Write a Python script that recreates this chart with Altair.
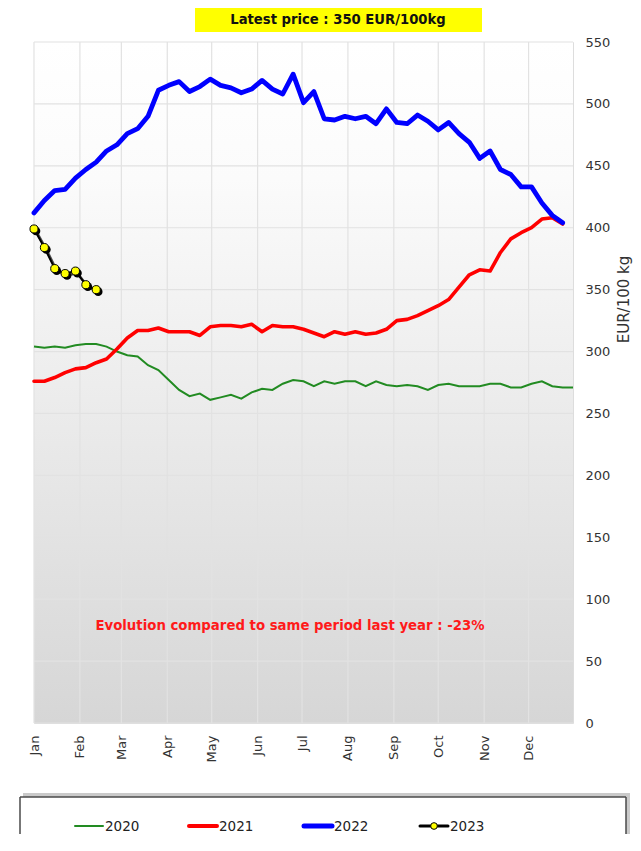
import altair as alt
import pandas as pd

# ---------------- data ----------------
YEARS = ["2020", "2021", "2022", "2023"]
COLORS = ["#228B22", "#FF0000", "#0000FF", "#000000"]

PRICE_2020 = [304, 303, 304, 303, 305, 306, 306, 304, 300, 297,
              296, 289, 285, 277, 269, 264, 266, 261, 263, 265,
              262, 267, 270, 269, 274, 277, 276, 272, 276, 274,
              276, 276, 272, 276, 273, 272, 273, 272, 269, 273,
              274, 272, 272, 272, 274, 274, 271, 271, 274, 276,
              272, 271, 271]
PRICE_2021 = [276, 276, 279, 283, 286, 287, 291, 294, 302, 311,
              317, 317, 319, 316, 316, 316, 313, 320, 321, 321,
              320, 322, 316, 321, 320, 320, 318, 315, 312, 316,
              314, 316, 314, 315, 318, 325, 326, 329, 333, 337,
              342, 352, 362, 366, 365, 380, 391, 396, 400, 407,
              408, 403]
PRICE_2022 = [412, 422, 430, 431, 440, 447, 453, 462, 467, 476,
              480, 490, 511, 515, 518, 510, 514, 520, 515, 513,
              509, 512, 519, 512, 508, 524, 501, 510, 488, 487,
              490, 488, 490, 484, 496, 485, 484, 491, 486, 479,
              485, 476, 469, 456, 462, 447, 443, 433, 433, 420,
              410, 404]
PRICE_2023 = [399, 384, 367, 363, 365, 354, 350]

MONTHS = ["Jan", "Feb", "Mar", "Apr", "May", "Jun",
          "Jul", "Aug", "Sep", "Oct", "Nov", "Dec"]
MONTH_START_DAY = [0, 31, 59, 90, 120, 151, 181, 212, 243, 273, 304, 334]
Y_TICKS = list(range(0, 551, 50))

TITLE_TEXT = "Latest price : 350 EUR/100kg"
NOTE_TEXT = "Evolution compared to same period last year : -23%"
Y_TITLE = "EUR/100 kg"

# ---------------- layout ----------------
W, H = 539, 681
PAD_L, PAD_T = 26, 34
TOTAL_W, TOTAL_H = 625, 826
PAD_R = TOTAL_W - PAD_L - W
PAD_B = TOTAL_H - PAD_T - H
BOTTOM = TOTAL_H - PAD_T          # svg bottom, in plot coordinates

FONT = "DejaVu Sans"
LABEL_COLOR = "#333333"
GRID_COLOR = "#e2e2e2"

month_weeks = [1 + d / 7 for d in MONTH_START_DAY]
label_expr = "''"
for t, name in reversed(list(zip(month_weeks, MONTHS))):
    label_expr = f"abs(datum.value - {t:.5f}) < 0.01 ? '{name}' : ({label_expr})"


def series_df(prices):
    return pd.DataFrame({"week": list(range(1, len(prices) + 1)), "price": prices})


ONE = pd.DataFrame({"k": [0]})

X = alt.X(
    "week:Q",
    scale=alt.Scale(domain=[1, 53], nice=False, zero=False),
    axis=alt.Axis(
        values=month_weeks, labelExpr=label_expr, grid=False, domain=False,
        ticks=False, labelAngle=270, labelAlign="right", labelBaseline="middle",
        labelPadding=12, labelFontSize=13, labelColor=LABEL_COLOR, labelFont=FONT,
        title=None, orient="bottom", labelOverlap=False, labelFlush=False,
    ),
)
Y = alt.Y(
    "price:Q",
    scale=alt.Scale(domain=[0, 550], nice=False),
    axis=alt.Axis(
        values=Y_TICKS, grid=False, domain=False, ticks=False, orient="right",
        labelPadding=12, labelFontSize=13, labelColor=LABEL_COLOR, labelFont=FONT,
        labelAlign="left", labelBaseline="middle", labelOverlap=False, labelFlush=False,
        title=Y_TITLE, titleAngle=270, titleX=58, titleY=257, titleAlign="center",
        titleBaseline="bottom", titleFontSize=15, titleFontWeight="normal",
        titleColor=LABEL_COLOR, titleFont=FONT,
    ),
)

# ---------------- background & grid ----------------
bg = alt.Chart(ONE).mark_rect(
    color=alt.LinearGradient(
        gradient="linear",
        stops=[alt.GradientStop(color="#ffffff", offset=0),
               alt.GradientStop(color="#fbfbfb", offset=0.2),
               alt.GradientStop(color="#d6d6d6", offset=1)],
        x1=0, x2=0, y1=0, y2=1,
    )
).encode(x=alt.value(0), x2=alt.value(W), y=alt.value(0), y2=alt.value(H))

grid_y = alt.Chart(pd.DataFrame({"price": Y_TICKS})).mark_rule(
    color=GRID_COLOR, strokeWidth=1.2
).encode(y=Y)
grid_x = alt.Chart(pd.DataFrame({"week": month_weeks})).mark_rule(
    color=GRID_COLOR, strokeWidth=1.2
).encode(x=X)

# ---------------- series ----------------
l2020 = alt.Chart(series_df(PRICE_2020)).mark_line(
    color=COLORS[0], strokeWidth=2
).encode(x=X, y=Y)
l2021 = alt.Chart(series_df(PRICE_2021)).mark_line(
    color=COLORS[1], strokeWidth=3.6, strokeJoin="round", strokeCap="round"
).encode(x=X, y=Y)
l2022 = alt.Chart(series_df(PRICE_2022)).mark_line(
    color=COLORS[2], strokeWidth=4.8, strokeJoin="round", strokeCap="round"
).encode(x=X, y=Y)

d23 = series_df(PRICE_2023)
l2023_shadow = alt.Chart(d23).mark_line(
    color="#000000", strokeWidth=2.5, xOffset=2, yOffset=2, opacity=0.7
).encode(x=X, y=Y)
l2023 = alt.Chart(d23).mark_line(color=COLORS[3], strokeWidth=2).encode(x=X, y=Y)
p2023_shadow = alt.Chart(d23).mark_circle(
    color="#000000", size=75, opacity=1, xOffset=2, yOffset=2
).encode(x=X, y=Y)
p2023 = alt.Chart(d23).mark_circle(
    fill="#ffff00", stroke="#000000", strokeWidth=1, size=65, opacity=1
).encode(x=X, y=Y)

# ---------------- title box & note ----------------
title_box = alt.Chart(ONE).mark_rect(color="#ffff00").encode(
    x=alt.value(161), x2=alt.value(448), y=alt.value(-PAD_T), y2=alt.value(-10)
)
title_txt = alt.Chart(ONE).mark_text(
    text=TITLE_TEXT, font=FONT, fontSize=13.2, fontWeight="bold", color="#111111",
    align="center", baseline="middle"
).encode(x=alt.value(304), y=alt.value(-22))

note = alt.Chart(ONE).mark_text(
    text=NOTE_TEXT, font=FONT, fontSize=13.3, fontWeight="bold", color="#ff1a1a",
    align="center", baseline="middle"
).encode(x=alt.value(256), y=alt.value(584))

# ---------------- legend (custom box, bottom edge cut by the page) ----------------
LEG_Y = 784
BOX_L, BOX_R, BOX_T = -14, 592, 755
leg_shadow = alt.Chart(ONE).mark_rect(color="#c4c4c4", opacity=0.9).encode(
    x=alt.value(BOX_L + 3), x2=alt.value(BOX_R + 4), y=alt.value(BOX_T - 4), y2=alt.value(BOTTOM)
)
leg_box = alt.Chart(ONE).mark_rect(fill="#ffffff").encode(
    x=alt.value(BOX_L), x2=alt.value(BOX_R), y=alt.value(BOX_T), y2=alt.value(BOTTOM)
)
edge_style = dict(color="#4a4a4a", strokeWidth=1.5)
leg_top = alt.Chart(ONE).mark_rule(**edge_style).encode(
    x=alt.value(BOX_L), x2=alt.value(BOX_R), y=alt.value(BOX_T)
)
leg_left = alt.Chart(ONE).mark_rule(**edge_style).encode(
    x=alt.value(BOX_L), y=alt.value(BOX_T), y2=alt.value(BOTTOM)
)
leg_right = alt.Chart(ONE).mark_rule(**edge_style).encode(
    x=alt.value(BOX_R), y=alt.value(BOX_T), y2=alt.value(BOTTOM)
)

leg_layers = [leg_shadow, leg_box, leg_top, leg_left, leg_right]
leg_x0 = [41, 155, 270, 386]
leg_w = [2, 4, 5, 3]
for i, yr in enumerate(YEARS):
    x0 = leg_x0[i]
    leg_layers.append(
        alt.Chart(ONE).mark_rule(color=COLORS[i], strokeWidth=leg_w[i], strokeCap="round").encode(
            x=alt.value(x0), x2=alt.value(x0 + 28), y=alt.value(LEG_Y)
        )
    )
    leg_layers.append(
        alt.Chart(ONE).mark_text(
            text=yr, font=FONT, fontSize=13.5, color="#222222", align="left", baseline="middle"
        ).encode(x=alt.value(x0 + 30), y=alt.value(LEG_Y + 1))
    )
leg_layers.append(
    alt.Chart(ONE).mark_circle(
        fill="#ffff00", stroke="#000000", strokeWidth=1, size=45, opacity=1
    ).encode(x=alt.value(leg_x0[3] + 14), y=alt.value(LEG_Y))
)

chart = alt.layer(
    bg, grid_y, grid_x, l2020, l2021, l2022,
    l2023_shadow, l2023, p2023_shadow, p2023,
    title_box, title_txt, note, *leg_layers,
).properties(
    width=W, height=H,
    autosize=alt.AutoSizeParams(type="none"),
    padding={"left": PAD_L, "top": PAD_T, "right": PAD_R, "bottom": PAD_B},
).configure_view(stroke=None).configure(font=FONT, background="#ffffff")

chart.save("out.html", embed_options={"renderer": "svg", "actions": False})
